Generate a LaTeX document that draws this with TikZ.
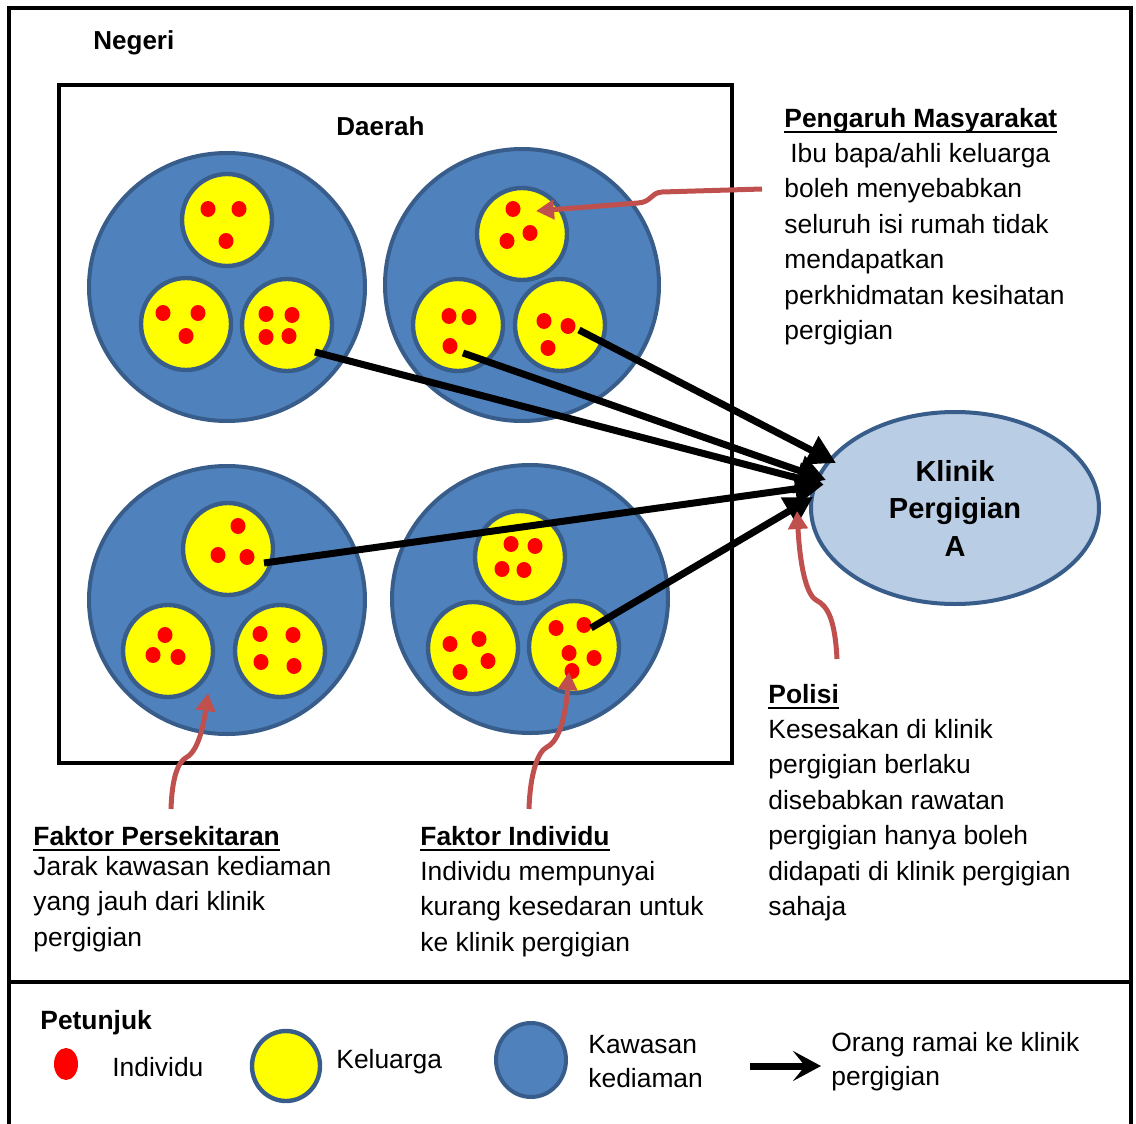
\documentclass[tikz,border=0pt]{standalone}
\usepackage{fontspec}
\setmainfont{Liberation Sans}
\usetikzlibrary{shapes.geometric,arrows.meta}
\definecolor{kblue}{HTML}{4F81BD}
\definecolor{kedge}{HTML}{385D8A}
\definecolor{kyel}{HTML}{FFFF00}
\definecolor{kred}{HTML}{FF0000}
\definecolor{klight}{HTML}{B9CDE5}
\definecolor{karrow}{HTML}{C0504D}
\newcommand{\hdul}[1]{\setbox0\hbox{#1}\leavevmode\rlap{\rule[-3.2pt]{\wd0}{1.1pt}}\box0}
\newcommand{\bodyfont}{\fontsize{13.2}{17.7}\selectfont}
\begin{document}
\begin{tikzpicture}[x=0.5pt,y=-0.5pt,
  kawasan/.style={ellipse,draw=kedge,fill=kblue,line width=2pt,minimum width=138pt,minimum height=134pt,inner sep=0pt},
  keluarga/.style={ellipse,draw=kedge,fill=kyel,line width=2.2pt,minimum width=45pt,minimum height=46pt,inner sep=0pt},
  dot/.style={ellipse,fill=kred,draw=none,minimum width=7.5pt,minimum height=8pt,inner sep=0pt},
  klinikbox/.style={ellipse,draw=kedge,fill=klight,line width=2pt,minimum width=144pt,minimum height=96pt,inner sep=0pt,align=center,font=\fontsize{14.5}{18.75}\selectfont\bfseries},
  flow/.style={line width=3.5pt,draw=black,-{Triangle[length=14pt,width=15pt]}},
  legflow/.style={line width=3.5pt,draw=black,-{Stealth[length=14pt,width=15pt,inset=6pt]}},
  cause/.style={line width=2.5pt,draw=karrow,-{Triangle[length=9pt,width=9.5pt]}},
  txt/.style={anchor=base west,inner sep=0pt,font=\bodyfont},
  title/.style={anchor=base west,inner sep=0pt,font=\fontsize{13}{16}\selectfont\bfseries},
  frame/.style={line width=1.6pt,draw=black}
]
\useasboundingbox (0,0) rectangle (1136,1124);
% outer frame
\draw[frame] (9,1140) -- (9,8) -- (1131,8) -- (1131,1140);
\draw[frame] (9,982) -- (1131,982);
% Daerah box
\draw[line width=2.3pt] (59,85) rectangle (732,763);
\node[title] (negeri) at (93,49) {Negeri};
\node[title] (daerah) at (336,135) {Daerah};

% kawasan circles
\node[kawasan] (kTL) at (227,287) {};
\node[kawasan,minimum width=137pt,minimum height=136pt] (kTR) at (522,285) {};
\node[kawasan] (kBL) at (227,600) {};
\node[kawasan] (kBR) at (530,599) {};

% keluarga circles
\node[keluarga] (yTL1) at (227,220) {};
\node[keluarga] (yTL2) at (186,324) {};
\node[keluarga] (yTL3) at (287,325) {};
\node[keluarga] (yTR1) at (522,234) {};
\node[keluarga] (yTR2) at (458,325) {};
\node[keluarga] (yTR3) at (560,325) {};
\node[keluarga] (yBL1) at (228,549) {};
\node[keluarga] (yBL2) at (168,651) {};
\node[keluarga] (yBL3) at (280,651) {};
\node[keluarga] (yBR1) at (520,557) {};
\node[keluarga] (yBR2) at (473,648) {};
\node[keluarga] (yBR3) at (574,647) {};

% individuals
\foreach \a/\b [count=\i] in {208/209,239/209,226/241, 163/313,198/313,186/336, 266/314,292/315,266/337,289/336,
  513/209,530/233,507/241, 449/316,469/317,450/346, 544/321,568/326,548/348,
  238/526,218/555,247/557, 165/635,153/655,178/657, 260/634,293/635,261/662,294/666,
  511/544,535/546,502/569,524/570, 450/644,479/639,488/661,460/672, 556/628,584/625,569/653,594/658,572/671}
  \node[dot] (d\i) at (\a,\b) {};

% clinic
\node[klinikbox] (klinik) at (955,508) {Klinik\\Pergigian\\A};

% flow arrows
\coordinate (s1) at (579,330);
\coordinate (s2) at (463,353);
\coordinate (s3) at (315,352);
\coordinate (s4) at (264,563);
\coordinate (s5) at (591,628);
\coordinate (t1) at (836,463);
\coordinate (t2) at (826,480);
\coordinate (t3) at (824,485);
\coordinate (t4) at (823,485);
\coordinate (t5) at (813,497);
\draw[flow] (s1) -- (t1);
\draw[flow] (s2) -- (t2);
\draw[flow] (s3) -- (t3);
\draw[flow] (s4) -- (t4);
\draw[flow] (s5) -- (t5);

% cause arrows
\coordinate (pmStart) at (762,189);
\coordinate (pmTip) at (536,211);
\draw[cause] (pmStart) -- (662,192) .. controls (650,193) and (652,202) .. (638,203) -- (pmTip);
\coordinate (poStart) at (837,659);
\coordinate (poTip) at (797,511);
\draw[cause] (poStart) .. controls (835,620) and (828,606) .. (816,600) .. controls (806,594) and (800,565) .. (poTip);
\coordinate (fpStart) at (171,809);
\coordinate (fpTip) at (208,693);
\draw[cause] (fpStart) .. controls (172,780) and (177,762) .. (187,757) .. controls (199,750) and (204,722) .. (fpTip);
\coordinate (fiStart) at (529,809);
\coordinate (fiTip) at (569,672);
\draw[cause] (fiStart) .. controls (530,776) and (537,752) .. (547,747) .. controls (561,740) and (566,710) .. (fiTip);

% text blocks
\node[txt] (pengaruh) at (784,127) {\begin{tabular}[t]{@{}l@{}}
\hdul{\bfseries Pengaruh Masyarakat}\\
\hspace*{3pt}Ibu bapa/ahli keluarga\\
boleh menyebabkan\\
seluruh isi rumah tidak\\
mendapatkan\\
perkhidmatan kesihatan\\
pergigian\end{tabular}};
\node[txt] (polisi) at (768,703) {\begin{tabular}[t]{@{}l@{}}
\hdul{\bfseries Polisi}\\
Kesesakan di klinik\\
pergigian berlaku\\
disebabkan rawatan\\
pergigian hanya boleh\\
didapati di klinik pergigian\\
sahaja\end{tabular}};
\node[txt] (persekitaran) at (33,845) {\begin{tabular}[t]{@{}l@{}}
\hdul{\bfseries Faktor Persekitaran}\\[-2.5pt]
Jarak kawasan kediaman\\
yang jauh dari klinik\\
pergigian\end{tabular}};
\node[txt] (individu) at (420,845) {\begin{tabular}[t]{@{}l@{}}
\hdul{\bfseries Faktor Individu}\\
Individu mempunyai\\
kurang kesedaran untuk\\
ke klinik pergigian\end{tabular}};

% legend
\node[txt,font=\bodyfont\bfseries] (petunjuk) at (40,1029) {Petunjuk};
\node[dot,minimum width=12pt,minimum height=16pt] (lgDot) at (66,1064) {};
\node[txt] (lgDotT) at (112,1076) {Individu};
\node[keluarga,minimum width=34pt,minimum height=35pt] (lgYel) at (286,1066) {};
\node[txt] (lgYelT) at (336,1068) {Keluarga};
\node[kawasan,minimum width=35pt,minimum height=37pt] (lgBlue) at (531,1060) {};
\node[txt] (lgBlueT) at (588,1053) {\begin{tabular}[t]{@{}l@{}}Kawasan\\[-0.7pt]kediaman\end{tabular}};
\coordinate (lgA1) at (750,1066);
\coordinate (lgA2) at (821,1066);
\draw[legflow] (lgA1) -- (lgA2);
\node[txt] (lgArrT) at (831,1051) {\begin{tabular}[t]{@{}l@{}}Orang ramai ke klinik\\[-0.7pt]pergigian\end{tabular}};
\end{tikzpicture}
\end{document}
